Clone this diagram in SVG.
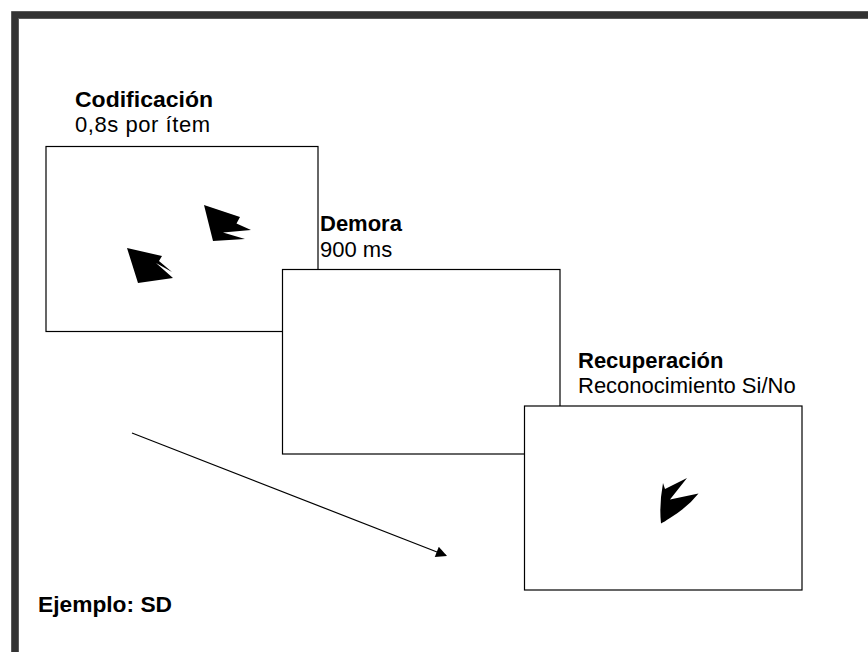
<svg xmlns="http://www.w3.org/2000/svg" width="868" height="652" viewBox="0 0 868 652">
<defs>
<style>
.frame{fill:#333333;stroke:#5a5a5a;stroke-width:1}
.screen{fill:#ffffff;stroke:#000000;stroke-width:1.2}
.stim{fill:#000000;stroke:none}
.t{font-family:"Liberation Sans",Arial,sans-serif;font-size:22px;fill:#000000}
.b{font-weight:bold}
.conn{stroke:#000000;stroke-width:1.2;fill:none}
</style>
<marker id="arr" viewBox="0 0 10 10" refX="9" refY="5" markerWidth="12" markerHeight="11" markerUnits="userSpaceOnUse" orient="auto">
<path d="M0,0 L10,5 L0,10 z" fill="#000000"/>
</marker>
</defs>
<rect width="868" height="652" fill="#ffffff"/>
<path class="frame" d="M11.5,11.5 H869 V18.5 H18.5 V653 H11.5 Z"/>

<g id="codificacion">
<rect class="screen" x="46" y="146.5" width="272" height="185"/>
<polygon class="stim" points="204,205 240,217 236.5,223.5 251,230 223,232.5 245,239 213,241"/>
<polygon class="stim" points="127,248 162,256 159,261 172,272 156,263 173,278 138,283"/>
<text class="t b" x="75" y="107" textLength="138" lengthAdjust="spacingAndGlyphs">Codificación</text>
<text class="t" x="75" y="132" textLength="135" lengthAdjust="spacing">0,8s por ítem</text>
</g>

<g id="demora">
<rect class="screen" x="282.5" y="269.5" width="277.5" height="184.5"/>
<text class="t b" x="320" y="231">Demora</text>
<text class="t" x="320" y="257">900 ms</text>
</g>

<g id="recuperacion">
<rect class="screen" x="524.5" y="406" width="277.5" height="184"/>
<path class="stim" d="M663,483 L665,489 L687,478 L670,499.5 L698.5,493.5 Q688,507 670,518 Q664,522 661,523.5 Q659,505 663,483 Z"/>
<text class="t b" x="578" y="368">Recuperación</text>
<text class="t" x="578" y="393">Reconocimiento Si/No</text>
</g>

<g id="connectors">
<line class="conn" x1="132" y1="433" x2="446" y2="555.5" marker-end="url(#arr)"/>
</g>

<text class="t b" x="38" y="612" textLength="134" lengthAdjust="spacingAndGlyphs">Ejemplo: SD</text>
</svg>
